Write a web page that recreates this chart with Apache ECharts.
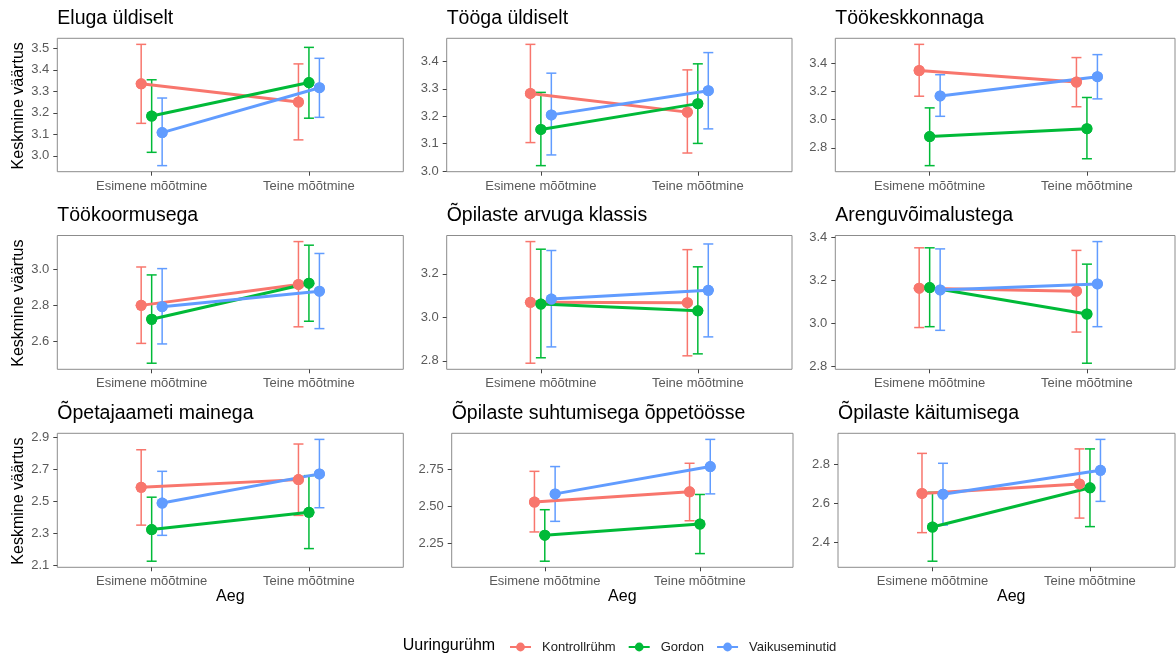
<!DOCTYPE html>
<html><head><meta charset="utf-8">
<script src="https://cdn.jsdelivr.net/npm/echarts@6/dist/echarts.min.js"></script>
<style>html,body{margin:0;padding:0;background:#fff}#c{width:1176px;height:654px}</style>
</head><body><div id="c"></div>
<script>
// ---------- DATA ----------
const groups = ['Kontrollrühm', 'Gordon', 'Vaikuseminutid'];
const timeLabels = ['Esimene mõõtmine', 'Teine mõõtmine'];
const panelTitles = ['Eluga üldiselt', 'Tööga üldiselt', 'Töökeskkonnaga',
  'Töökoormusega', 'Õpilaste arvuga klassis', 'Arenguvõimalustega',
  'Õpetajaameti mainega', 'Õpilaste suhtumisega õppetöösse', 'Õpilaste käitumisega'];
const yTitle = 'Keskmine väärtus';
const xTitle = 'Aeg';
const legendTitle = 'Uuringurühm';

// each array: [group][time]
const eluga_mean = [[3.335, 3.250], [3.185, 3.341], [3.108, 3.317]];
const eluga_low  = [[3.151, 3.074], [3.016, 3.175], [2.954, 3.179]];
const eluga_high = [[3.519, 3.428], [3.354, 3.505], [3.269, 3.454]];
const eluga_ticks = ['3.0', '3.1', '3.2', '3.3', '3.4', '3.5'];

const tooga_mean = [[3.283, 3.215], [3.152, 3.246], [3.205, 3.293]];
const tooga_low  = [[3.104, 3.066], [3.020, 3.101], [3.059, 3.154]];
const tooga_high = [[3.462, 3.369], [3.287, 3.391], [3.357, 3.432]];
const tooga_ticks = ['3.0', '3.1', '3.2', '3.3', '3.4'];

const keskkond_mean = [[3.350, 3.268], [2.880, 2.936], [3.169, 3.306]];
const keskkond_low  = [[3.167, 3.092], [2.673, 2.722], [3.024, 3.148]];
const keskkond_high = [[3.536, 3.442], [3.084, 3.158], [3.320, 3.463]];
const keskkond_ticks = ['2.8', '3.0', '3.2', '3.4'];

const koormus_mean = [[2.800, 2.916], [2.723, 2.923], [2.793, 2.879]];
const koormus_low  = [[2.589, 2.681], [2.479, 2.712], [2.586, 2.671]];
const koormus_high = [[3.013, 3.154], [2.969, 3.134], [3.004, 3.088]];
const koormus_ticks = ['2.6', '2.8', '3.0'];

const arv_mean = [[3.069, 3.067], [3.061, 3.030], [3.084, 3.124]];
const arv_low  = [[2.789, 2.823], [2.814, 2.832], [2.864, 2.910]];
const arv_high = [[3.348, 3.311], [3.313, 3.232], [3.307, 3.337]];
const arv_ticks = ['2.8', '3.0', '3.2'];

const areng_mean = [[3.164, 3.150], [3.167, 3.044], [3.156, 3.184]];
const areng_low  = [[2.981, 2.960], [2.985, 2.815], [2.968, 2.985]];
const areng_high = [[3.352, 3.340], [3.352, 3.276], [3.347, 3.381]];
const areng_ticks = ['2.8', '3.0', '3.2', '3.4'];

const maine_mean = [[2.587, 2.635], [2.322, 2.430], [2.488, 2.671]];
const maine_low  = [[2.350, 2.411], [2.124, 2.203], [2.286, 2.459]];
const maine_high = [[2.822, 2.858], [2.525, 2.660], [2.687, 2.887]];
const maine_ticks = ['2.1', '2.3', '2.5', '2.7', '2.9'];

const suhtumine_mean = [[2.529, 2.598], [2.307, 2.382], [2.584, 2.767]];
const suhtumine_low  = [[2.329, 2.404], [2.133, 2.184], [2.400, 2.584]];
const suhtumine_high = [[2.735, 2.789], [2.478, 2.580], [2.767, 2.949]];
const suhtumine_ticks = ['2.25', '2.50', '2.75'];

const kaitumine_mean = [[2.650, 2.699], [2.477, 2.679], [2.646, 2.769]];
const kaitumine_low  = [[2.448, 2.523], [2.301, 2.479], [2.487, 2.609]];
const kaitumine_high = [[2.856, 2.879], [2.656, 2.879], [2.805, 2.928]];
const kaitumine_ticks = ['2.4', '2.6', '2.8'];

const panelData = [
  [eluga_mean, eluga_low, eluga_high, eluga_ticks],
  [tooga_mean, tooga_low, tooga_high, tooga_ticks],
  [keskkond_mean, keskkond_low, keskkond_high, keskkond_ticks],
  [koormus_mean, koormus_low, koormus_high, koormus_ticks],
  [arv_mean, arv_low, arv_high, arv_ticks],
  [areng_mean, areng_low, areng_high, areng_ticks],
  [maine_mean, maine_low, maine_high, maine_ticks],
  [suhtumine_mean, suhtumine_low, suhtumine_high, suhtumine_ticks],
  [kaitumine_mean, kaitumine_low, kaitumine_high, kaitumine_ticks]
];

// ---------- LAYOUT / STYLE ----------
const colors = ['#F8766D', '#00BA38', '#619CFF'];
const dodge = [-0.2 / 3, 0, 0.2 / 3];
const FONT = "'Liberation Sans', Arial, Helvetica, sans-serif";
const rows = [[38.3, 171.7], [235.5, 369.3], [433.3, 567.3]];
const cols = [
  [57.3, 403.3, 2.6], [446.7, 792, 2.6], [835.3, 1175, 2.56],
  [57.3, 403.3, 2.6], [446.7, 792, 2.6], [835.3, 1175, 2.56],
  [57.3, 403.3, 2.6], [451.7, 793, 2.6], [838, 1175, 2.54]
];

const grids = [], xAxes = [], yAxes = [], lineSeries = [], otherSeries = [], graphics = [];

panelData.forEach(function (pd, p) {
  const mean = pd[0], low = pd[1], high = pd[2], tickLabels = pd[3];
  const row = rows[Math.floor(p / 3)];
  const c = cols[p];
  const L = c[0], R = c[1], xMax = c[2];
  grids.push({
    left: L, top: row[0], width: R - L, height: row[1] - row[0],
    show: true, borderColor: '#8c8c8c', borderWidth: 1, backgroundColor: '#fff',
    containLabel: false, outerBoundsMode: 'none'
  });
  // ggplot-like 5% expansion of the data range
  let lo = Infinity, hi = -Infinity;
  low.forEach(a => a.forEach(v => { lo = Math.min(lo, v); }));
  high.forEach(a => a.forEach(v => { hi = Math.max(hi, v); }));
  const pad = (hi - lo) * 0.05;
  xAxes.push({
    type: 'value', gridIndex: p, min: 0.4, max: xMax,
    axisLine: { show: false },
    splitLine: { show: false },
    axisTick: { show: true, customValues: [1, 2], length: 4, lineStyle: { color: '#444', width: 1 } },
    axisLabel: {
      show: true, customValues: [1, 2], margin: 8, color: '#5a5a5a', fontSize: 13, fontFamily: FONT,
      formatter: function (v) { return timeLabels[Math.round(v) - 1]; }
    }
  });
  const tickVals = tickLabels.map(parseFloat);
  yAxes.push({
    type: 'value', gridIndex: p, min: lo - pad, max: hi + pad,
    axisLine: { show: false },
    splitLine: { show: false },
    axisTick: { show: true, customValues: tickVals, length: 4, lineStyle: { color: '#444', width: 1 } },
    axisLabel: {
      show: true, customValues: tickVals, margin: 8, color: '#5a5a5a', fontSize: 13, fontFamily: FONT,
      formatter: function (v) {
        let best = 0;
        tickVals.forEach((t, i) => { if (Math.abs(t - v) < Math.abs(tickVals[best] - v)) best = i; });
        return tickLabels[best];
      }
    }
  });
  groups.forEach(function (g, gi) {
    const pts = [0, 1].map(t => [t + 1 + dodge[gi], mean[gi][t]]);
    lineSeries.push({
      type: 'line', name: g, xAxisIndex: p, yAxisIndex: p, data: pts,
      color: colors[gi], symbol: 'circle', symbolSize: 11, showSymbol: true,
      lineStyle: { width: 3, color: colors[gi] }, itemStyle: { color: colors[gi] },
      z: 2, silent: true, animation: false
    });
    otherSeries.push({
      type: 'custom', xAxisIndex: p, yAxisIndex: p,
      data: [0, 1].map(t => [t + 1 + dodge[gi], low[gi][t], high[gi][t]]),
      encode: { x: 0, y: [1, 2] }, z: 1, silent: true, animation: false,
      renderItem: function (params, api) {
        const x = api.value(0);
        const a = api.coord([x, api.value(1)]);
        const b = api.coord([x, api.value(2)]);
        const hw = 5;
        const st = { stroke: colors[gi], lineWidth: 1.5, fill: null };
        return {
          type: 'group', children: [
            { type: 'line', shape: { x1: a[0], y1: a[1], x2: b[0], y2: b[1] }, style: st },
            { type: 'line', shape: { x1: a[0] - hw, y1: a[1], x2: a[0] + hw, y2: a[1] }, style: st },
            { type: 'line', shape: { x1: b[0] - hw, y1: b[1], x2: b[0] + hw, y2: b[1] }, style: st }
          ]
        };
      }
    });
    otherSeries.push({
      type: 'scatter', xAxisIndex: p, yAxisIndex: p, data: pts,
      symbol: 'circle', symbolSize: 11, itemStyle: { color: colors[gi], opacity: 1 },
      z: 3, silent: true, animation: false
    });
  });
  // panel title
  graphics.push({
    type: 'text', x: L, y: row[0] - 19.5,
    style: { text: panelTitles[p], fontSize: 19.5, fontFamily: FONT, fill: '#000',
      align: 'left', verticalAlign: 'middle', textAlign: 'left', textVerticalAlign: 'middle' }
  });
  // x title for bottom row (centre of full panel range)
  if (p >= 6) {
    const unit = (R - L) / (xMax - 0.4);
    graphics.push({
      type: 'text', x: L + 1.1 * unit, y: 597,
      style: { text: xTitle, fontSize: 16, fontFamily: FONT, fill: '#000',
        align: 'center', verticalAlign: 'middle', textAlign: 'center', textVerticalAlign: 'middle' }
    });
  }
});

// y titles
rows.forEach(function (r) {
  graphics.push({
    type: 'text', x: 18.7, y: (r[0] + r[1]) / 2 + 0.8, rotation: Math.PI / 2,
    style: { text: yTitle, fontSize: 16, fontFamily: FONT, fill: '#000',
      align: 'center', verticalAlign: 'middle', textAlign: 'center', textVerticalAlign: 'middle' }
  });
});
// legend title
graphics.push({
  type: 'text', x: 402.7, y: 646,
  style: { text: legendTitle, fontSize: 16, fontFamily: FONT, fill: '#000',
    align: 'left', verticalAlign: 'middle', textAlign: 'left', textVerticalAlign: 'middle' }
});

const chart = echarts.init(document.getElementById('c'), null, { renderer: 'canvas' });
chart.setOption({
  animation: false,
  backgroundColor: '#fff',
  grid: grids,
  xAxis: xAxes,
  yAxis: yAxes,
  legend: {
    data: groups, left: 509, top: 640.5, padding: 0, orient: 'horizontal',
    itemWidth: 21, itemHeight: 11, itemGap: 12, selectedMode: false,
    textStyle: { fontSize: 13, fontFamily: FONT, color: '#222', padding: [0, 0, 0, 6] }
  },
  graphic: graphics,
  series: lineSeries.concat(otherSeries)
});
</script></body></html>
